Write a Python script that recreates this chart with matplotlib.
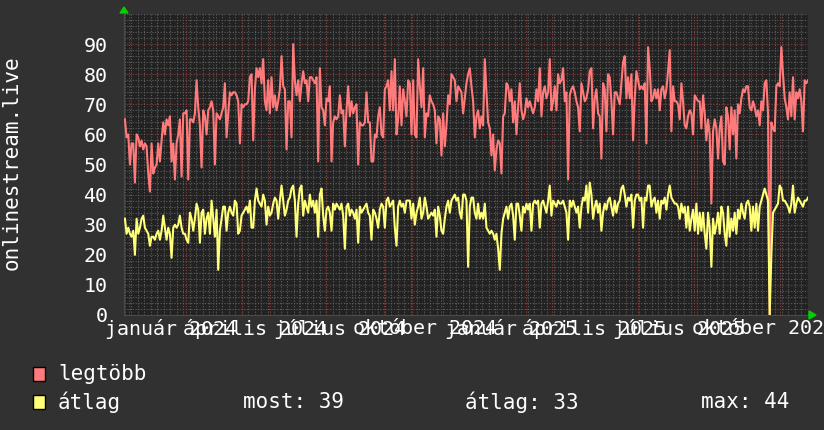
import pandas as pd
import matplotlib
matplotlib.use('Agg')
import matplotlib.pyplot as plt
from matplotlib.patches import Rectangle, Polygon

# daily-ish values
legtobb = [
    65, 59, 60, 50, 57, 57, 44, 60, 59, 56,
    58, 55, 57, 56, 47, 41, 57, 47, 49, 50,
    57, 51, 58, 64, 60, 65, 63, 66, 51, 57,
    45, 57, 60, 65, 46, 67, 67, 68, 45, 65,
    65, 64, 67, 78, 69, 63, 49, 68, 66, 60,
    68, 69, 71, 68, 50, 67, 66, 65, 67, 69,
    77, 59, 67, 74, 73, 74, 74, 73, 71, 57,
    70, 69, 70, 70, 71, 79, 80, 58, 75, 82,
    79, 82, 77, 85, 71, 68, 78, 67, 79, 69,
    73, 68, 71, 75, 86, 76, 75, 55, 71, 71,
    59, 90, 78, 73, 78, 71, 77, 81, 77, 78,
    71, 79, 79, 78, 77, 79, 51, 82, 69, 68,
    63, 72, 71, 76, 51, 64, 66, 65, 66, 73,
    67, 68, 56, 68, 76, 66, 71, 67, 69, 70,
    50,
    64, 63, 63, 64, 74, 64, 64, 51, 51, 60,
    59, 66, 69, 60, 59, 75, 76, 78, 68, 81,
    68, 85, 60, 65, 76, 63, 75, 71, 66, 78,
    77, 60, 78, 60, 59, 85, 76, 69, 82, 59,
    67, 66, 73, 71, 70, 68, 57, 66, 65, 53,
    67, 56, 63, 73, 70, 80, 79, 78, 71, 76,
    75, 74, 67, 72, 77, 80, 82, 76, 71, 59,
    66, 68, 62, 66, 63, 85, 74, 64, 62, 53,
    60, 48, 55, 58, 57, 47, 66, 67, 77, 76,
    71, 75, 64, 71, 60, 69, 77, 68, 65, 67,
    72, 69, 71, 69, 67, 69, 75, 71, 82, 66,
    74, 76, 72, 74, 85, 68, 71, 76, 68, 80,
    77, 78, 82, 71, 74, 45, 73, 75, 76, 74,
    71, 69, 61, 77, 74, 71, 72, 75,
    81, 82, 62, 72, 75, 67, 66, 52, 77, 75,
    61, 80, 79, 71, 60, 74, 74, 72, 70, 77,
    84, 86, 72, 79, 72, 80, 58, 72, 81, 78,
    75, 76, 75, 77, 57, 89, 82, 71, 72, 75,
    72, 75, 68, 75, 76, 72, 75, 81, 88, 61,
    76, 71, 71, 70, 65, 77, 71, 63, 62, 66,
    68, 67, 60, 73, 72, 71, 71, 62, 73, 67,
    58, 65, 60, 37, 61, 65, 62, 52, 62, 66,
    51, 50, 69, 66, 55, 69, 60, 68, 52, 70,
    67, 72, 75, 74, 76, 76, 69, 68, 71, 69,
    66, 68, 63, 71, 68, 77, 78, 67, 0, 64,
    62, 61, 76, 77, 76, 89, 80, 72, 69, 65,
    74, 66, 79, 65, 74, 72, 75, 71, 61, 78,
    77, 78,
]

atlag = [
    32, 27, 29, 27, 26, 28, 20, 32, 27, 29,
    32, 33, 29, 28, 27, 23, 26, 26, 25, 27,
    28, 25, 28, 33, 29, 25, 29, 27, 19, 29,
    30, 29, 30, 33, 29, 27, 27, 25, 24, 34,
    32, 28, 32, 37, 35, 24, 34, 35, 27, 32,
    34, 27, 38, 32, 26, 35, 15, 28, 32, 36,
    36, 28, 34, 36, 34, 33, 38, 37, 27, 28,
    33, 34, 35, 36, 34, 38, 29, 29, 38, 42,
    38, 37, 36, 40, 38, 30, 36, 33, 34, 37,
    39, 38, 32, 38, 43, 38, 33, 35, 38, 39,
    42, 43, 38, 26, 37, 42, 43, 33, 38, 36,
    34, 40, 36, 38, 34, 38, 26, 40, 42, 33,
    28, 35, 36, 34, 28, 37, 35, 37, 36, 35,
    37, 33, 22, 36, 37, 33, 35, 34, 32, 35,
    24,
    36, 34, 35, 36, 37, 34, 33, 25, 35, 34,
    32, 29, 35, 37, 36, 29, 38, 39, 36, 37,
    38, 29, 23, 36, 38, 36, 37, 34, 38, 38,
    38, 32, 37, 30, 34, 36, 39, 32, 34, 39,
    36, 32, 33, 34, 33, 35, 26, 36, 33, 28,
    27, 32, 36, 38, 34, 38, 39, 40, 38, 39,
    34, 32, 40, 40, 38, 16, 36, 39, 39, 34,
    32, 37, 32, 34, 32, 37, 29, 28, 27, 28,
    27, 25, 27, 22, 15, 27, 32, 34, 36, 32,
    36, 37, 33, 25, 37, 37, 33, 28, 36, 34,
    37, 35, 37, 28, 37, 38, 37, 38, 29, 37,
    38, 36, 34, 38, 43, 33, 38, 37, 36, 38,
    37, 37, 38, 36, 34, 25, 38, 36, 38, 36,
    34, 36, 29, 36, 39, 38, 43, 34,
    44, 40, 32, 36, 38, 34, 37, 28, 34, 37,
    35, 38, 39, 36, 33, 38, 34, 37, 38, 42,
    43, 40, 36, 39, 38, 40, 29, 38, 40, 40,
    38, 39, 29, 39, 38, 43, 43, 36, 38, 39,
    34, 38, 32, 38, 37, 39, 35, 40, 43, 39,
    38, 37, 37, 36, 32, 37, 34, 36, 29, 36,
    28, 32, 35, 28, 37, 27, 34, 28, 34, 27,
    22, 34, 29, 16, 32, 27, 30, 34, 27, 36,
    34, 27, 23, 36, 26, 32, 28, 34, 27, 35,
    32, 37, 34, 32, 37, 38, 36, 28, 36, 29,
    37, 28, 36, 38, 40, 42, 40, 38, 0, 20,
    34, 35, 36, 37, 43, 42, 38, 38, 37, 36,
    34, 37, 43, 34, 37, 39, 38, 37, 36, 38,
    38, 39,
]

start_date = '2023-11-27 12:00'
end_date = '2025-12-02 00:00'
x_min = '2023-11-26 12:00'
x_max = '2025-12-02 00:00'

label_dates = ['2024-01-16', '2024-04-16', '2024-07-16', '2024-10-16',
               '2025-01-16', '2025-04-16', '2025-07-16', '2025-10-16']
label_texts = ['január 2024', 'április 2024', 'július 2024', 'október 2024',
               'január 2025', 'április 2025', 'július 2025', 'október 2025']
y_ticks = [0, 10, 20, 30, 40, 50, 60, 70, 80, 90]
y_label = 'onlinestream.live'
series_names = ['legtöbb', 'átlag']
stats = ['most: 39', 'átlag: 33', 'max: 44']

RED = '#ff7b7b'
YELLOW = '#ffff78'
W, H = 824, 430

dates = pd.date_range(start_date, end_date, periods=len(legtobb))

plt.rcParams['font.family'] = ['DejaVu Sans Mono']

fig = plt.figure(figsize=(W / 100, H / 100), dpi=100, facecolor='#313131')
ax = fig.add_axes([124 / W, 115 / H, 684 / W, 301 / H])
ax.set_facecolor('#222222')

ax.plot(dates, legtobb, color=RED, lw=1.5, zorder=3)
ax.plot(dates, atlag, color=YELLOW, lw=1.5, zorder=4)

ax.set_xlim(pd.Timestamp(x_min), pd.Timestamp(x_max))
ax.set_ylim(0, 100)

# weekly minor + monthly major vertical grid (rrdtool style)
for d in pd.date_range(x_min, x_max, freq='W-MON'):
    ax.axvline(d, color='#5e5e5e', lw=0.8, ls=(0, (1, 1.5)), zorder=1)
for d in pd.date_range(x_min, x_max, freq='MS'):
    ax.axvline(d, color='#8e3c3c', lw=0.8, ls=(0, (1, 1.5)), zorder=2)

ax.set_yticks(y_ticks)
ax.set_yticks(range(0, 101, 2), minor=True)
ax.grid(which='minor', axis='y', color='#5e5e5e', lw=0.8, ls=(0, (1, 1.5)), zorder=1)
ax.grid(which='major', axis='y', color='#8e3c3c', lw=0.8, ls=(0, (1, 1.5)), zorder=2)
ax.set_axisbelow(True)

ax.set_xticks(pd.to_datetime(label_dates))
ax.set_xticklabels(label_texts)
ax.tick_params(which='both', length=0, colors='white', labelsize=14.4)
ax.tick_params(axis='x', pad=3)
ax.tick_params(axis='y', pad=12)

for s in ['top', 'right']:
    ax.spines[s].set_visible(False)
for s in ['left', 'bottom']:
    ax.spines[s].set_color('#4a4a4a')

# green arrows at the ends of the axes
def px(x, y):
    return (x / W, 1 - y / H)

fig.add_artist(Polygon([px(120, 13), px(128, 13), px(124, 7)], closed=True,
                       color='#00d000', transform=fig.transFigure))
fig.add_artist(Polygon([px(809, 311), px(809, 319), px(816, 315)], closed=True,
                       color='#00d000', transform=fig.transFigure))

fig.text(12 / W, 1 - 163 / H, y_label, rotation=90, ha='center', va='center',
         color='white', fontsize=15)

# legend
for i, (name, col) in enumerate(zip(series_names, [RED, YELLOW])):
    yc = 374 + i * 28
    fig.add_artist(Rectangle(px(33, yc + 7), 12 / W, 14 / H, facecolor=col,
                             edgecolor='black', lw=1, transform=fig.transFigure))
    fig.text(58 / W, 1 - yc / H, name, ha='left', va='center', color='white', fontsize=15)

for xs, txt in zip([243, 465, 701], stats):
    fig.text(xs / W, 1 - 402 / H, txt, ha='left', va='center', color='white', fontsize=15)

fig.savefig('out.png', dpi=100, facecolor=fig.get_facecolor())
